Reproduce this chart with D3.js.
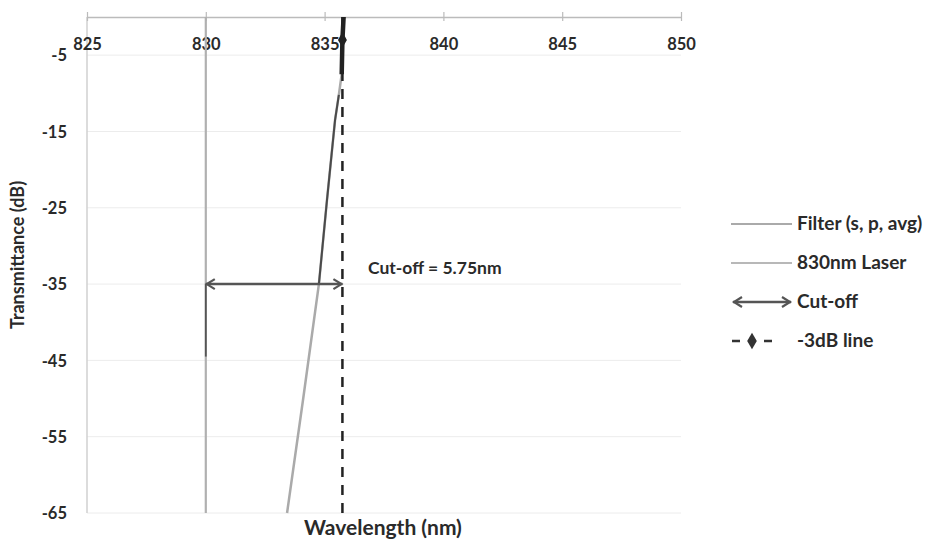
<!DOCTYPE html>
<html>
<head>
<meta charset="utf-8">
<script src="https://cdn.jsdelivr.net/npm/d3@7"></script>
<style>
  html, body { margin: 0; padding: 0; background: #fff; }
  svg { display: block; font-family: Lato, "Open Sans", sans-serif; }
</style>
</head>
<body>
<svg id="chart" width="927" height="543"></svg>
<script>
// ---- data ----
const xTicks = [825, 830, 835, 840, 845, 850];
const yTicks = [-5, -15, -25, -35, -45, -55, -65];
const filterWl = [835.8, 835.75, 835.72, 835.6, 835.44, 835.1, 834.76, 834.1, 833.42];
const filterDb = [0, -3, -7.5, -10.2, -13.5, -24, -35, -50, -65];
const laserWl = [830, 830];
const laserDb = [0, -65];
const laserMarkDb = [-35, -44.5];
const cutoffWl = [830, 835.75];
const cutoffDb = -35;
const threeDbWl = 835.75;
const threeDbMarker = -3;
const cutoffLabel = "Cut-off = 5.75nm";
const legendItems = ["Filter (s, p, avg)", "830nm Laser", "Cut-off", "-3dB line"];

const svg = d3.select("#chart");
const x = d3.scaleLinear().domain([825, 850]).range([87, 681]);
const y = d3.scaleLinear().domain([0, -65]).range([17, 513]);
const txt = "#2a2a2a";

// gridlines
svg.append("g").selectAll("line").data(yTicks).join("line")
  .attr("x1", x(825)).attr("x2", x(850))
  .attr("y1", d => y(d)).attr("y2", d => y(d))
  .attr("stroke", "#ececec").attr("stroke-width", 1);

// y axis line
svg.append("line").attr("x1", x(825)).attr("x2", x(825))
  .attr("y1", y(0)).attr("y2", y(-65)).attr("stroke", "#d0d0d0").attr("stroke-width", 1.5);

// y labels
svg.append("g").selectAll("text").data(yTicks).join("text")
  .attr("x", 67).attr("y", d => y(d) + 2)
  .attr("text-anchor", "end").attr("dominant-baseline", "middle")
  .attr("font-size", 16.5).attr("font-weight", "bold").attr("fill", txt)
  .text(d => d);

// x axis (top)
const xAxis = d3.axisBottom(x).tickValues(xTicks).tickSize(0).tickPadding(0).tickFormat(d3.format("d"));
const gx = svg.append("g").attr("transform", `translate(0,${y(0)})`).call(xAxis);
gx.select(".domain").attr("stroke", "#bbb").attr("stroke-width", 1.5);
gx.selectAll(".tick text").attr("y", 27).attr("dy", "0.35em")
  .attr("font-size", 16.5).attr("font-weight", "bold").attr("fill", txt)
  .attr("font-family", "Lato, 'Open Sans', sans-serif");
gx.selectAll(".tick").append("line").attr("y1", -5).attr("y2", 4).attr("stroke", "#bbb").attr("stroke-width", 1.2);

const line = d3.line().x(d => x(d[0])).y(d => y(d[1]));

// laser line
svg.append("path").datum(laserWl.map((w, i) => [w, laserDb[i]]))
  .attr("d", line).attr("fill", "none").attr("stroke", "#b0b0b0").attr("stroke-width", 2.2);
svg.append("path").datum(laserMarkDb.map(v => [laserWl[0], v]))
  .attr("d", line).attr("fill", "none").attr("stroke", "#555").attr("stroke-width", 1.8);

// filter
const filterPts = filterWl.map((w, i) => [w, filterDb[i]]);
svg.append("path").datum(filterPts)
  .attr("d", line).attr("fill", "none").attr("stroke", "#aaa").attr("stroke-width", 2.5);
svg.append("path").datum(filterPts.filter(d => d[1] <= -10 && d[1] >= -35))
  .attr("d", line).attr("fill", "none").attr("stroke", "#4a4a4a").attr("stroke-width", 2);
svg.append("path").datum(filterPts.filter(d => d[1] >= -7.5))
  .attr("d", line).attr("fill", "none").attr("stroke", "#222").attr("stroke-width", 4.5);

// -3dB line
svg.append("line").attr("x1", x(threeDbWl)).attr("x2", x(threeDbWl))
  .attr("y1", y(0)).attr("y2", y(-65))
  .attr("stroke", "#222").attr("stroke-width", 2.5).attr("stroke-dasharray", "10,8");
svg.append("path")
  .attr("d", d3.symbol(d3.symbolDiamond, 70)())
  .attr("transform", `translate(${x(threeDbWl)},${y(threeDbMarker)})`)
  .attr("fill", "#222");

// cut-off arrow
function arrow(g, x1, x2, yy) {
  g.append("line").attr("x1", x1).attr("x2", x2).attr("y1", yy).attr("y2", yy)
    .attr("stroke", "#555").attr("stroke-width", 2.5);
  g.append("path").attr("d", `M${x1 + 9},${yy - 5}L${x1 + 1},${yy}L${x1 + 9},${yy + 5}`)
    .attr("fill", "none").attr("stroke", "#555").attr("stroke-width", 2.2);
  g.append("path").attr("d", `M${x2 - 9},${yy - 5}L${x2 - 1},${yy}L${x2 - 9},${yy + 5}`)
    .attr("fill", "none").attr("stroke", "#555").attr("stroke-width", 2.2);
}
arrow(svg.append("g"), x(cutoffWl[0]), x(cutoffWl[1]), y(cutoffDb));

svg.append("text").attr("x", 368).attr("y", 270).attr("dominant-baseline", "middle")
  .attr("font-size", 17.5).attr("font-weight", "bold").attr("fill", txt).text(cutoffLabel);

// axis titles
svg.append("text").attr("x", 383).attr("y", 530).attr("text-anchor", "middle")
  .attr("dominant-baseline", "middle").attr("font-size", 21).attr("font-weight", "bold")
  .attr("fill", txt).text("Wavelength (nm)");
svg.append("text").attr("transform", "translate(19,255) rotate(-90)").attr("text-anchor", "middle")
  .attr("dominant-baseline", "middle").attr("font-size", 18).attr("font-weight", "bold")
  .attr("fill", txt).text("Transmittance (dB)");

// legend
const lg = svg.append("g");
const rowY = i => 224 + i * 39;
legendItems.forEach((name, i) => {
  const yy = rowY(i);
  if (i === 0) lg.append("line").attr("x1", 731).attr("x2", 792).attr("y1", yy).attr("y2", yy).attr("stroke", "#aaa").attr("stroke-width", 2.2);
  if (i === 1) lg.append("line").attr("x1", 731).attr("x2", 792).attr("y1", yy).attr("y2", yy).attr("stroke", "#b8b8b8").attr("stroke-width", 2.2);
  if (i === 2) arrow(lg, 733, 791, yy);
  if (i === 3) {
    lg.append("line").attr("x1", 732).attr("x2", 774).attr("y1", yy).attr("y2", yy)
      .attr("stroke", "#333").attr("stroke-width", 2.5).attr("stroke-dasharray", "8,8");
    lg.append("path").attr("d", d3.symbol(d3.symbolDiamond, 80)())
      .attr("transform", `translate(752,${yy})`).attr("fill", "#333");
  }
  lg.append("text").attr("x", 797).attr("y", yy + 1).attr("dominant-baseline", "middle")
    .attr("font-size", 19).attr("font-weight", "bold").attr("fill", txt).text(name);
});
</script>
</body>
</html>
